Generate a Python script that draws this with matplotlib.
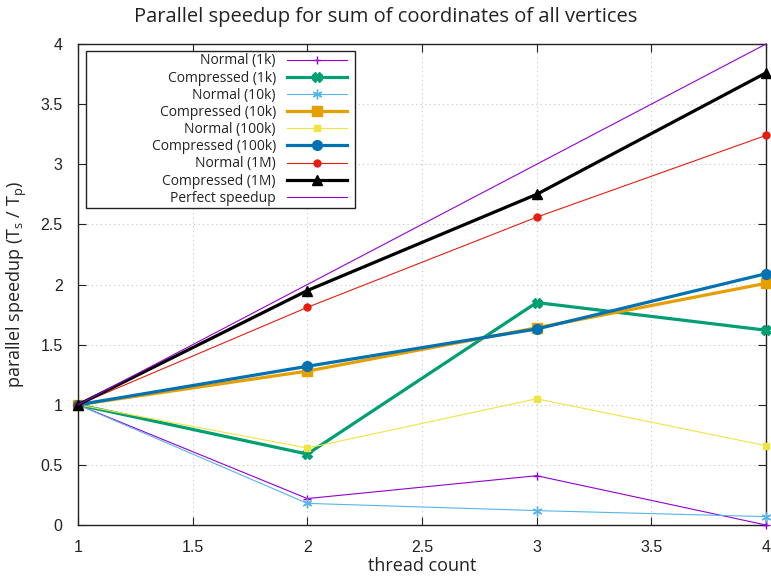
import matplotlib.pyplot as plt
from matplotlib.patches import Rectangle
import numpy as np

# thread counts and measured speedups (T_s / T_p)
threads = [1, 2, 3, 4]

normal_1k = [1.0, 0.22, 0.41, 0.0]
compressed_1k = [1.0, 0.59, 1.85, 1.62]
normal_10k = [1.0, 0.18, 0.12, 0.07]
compressed_10k = [1.0, 1.28, 1.64, 2.01]
normal_100k = [1.0, 0.64, 1.05, 0.66]
compressed_100k = [1.0, 1.32, 1.63, 2.09]
normal_1m = [1.0, 1.81, 2.56, 3.24]
compressed_1m = [1.0, 1.95, 2.75, 3.76]
perfect = [1, 2, 3, 4]

labels = ["Normal (1k)", "Compressed (1k)", "Normal (10k)", "Compressed (10k)",
          "Normal (100k)", "Compressed (100k)", "Normal (1M)", "Compressed (1M)",
          "Perfect speedup"]

# gnuplot-like asterisk marker
asterisk = (6, 2, 0)

# (values, color, linewidth, marker, markersize)
series = [
    (normal_1k, "#9400D3", 0.8, "+", 6),
    (compressed_1k, "#009E73", 2.3, "X", 7),
    (normal_10k, "#56B4E9", 0.8, asterisk, 7),
    (compressed_10k, "#E69F00", 2.3, "s", 7),
    (normal_100k, "#F0E442", 0.8, "s", 5),
    (compressed_100k, "#0072B2", 2.3, "o", 7),
    (normal_1m, "#E51E10", 0.8, "o", 5),
    (compressed_1m, "black", 2.3, "^", 7),
    (perfect, "#9400D3", 0.8, "", 0),
]

text_font = ["Open Sans", "DejaVu Sans"]
tick_font = "Liberation Sans"

fig = plt.figure(figsize=(7.71, 5.76), dpi=100)
ax = fig.add_axes([0.1012, 0.0885, 0.8923, 0.8351])

for (vals, color, lw, marker, ms), label in zip(series, labels):
    ax.plot(threads, vals, color=color, linewidth=lw, marker=marker,
            markersize=ms, markeredgewidth=1.0, label=label, clip_on=False,
            zorder=3)

ax.set_xlim(1, 4)
ax.set_ylim(0, 4)
ax.set_xticks(np.arange(1, 4.01, 0.5))
ax.set_yticks(np.arange(0, 4.01, 0.5))
ax.set_xticklabels(["1", "1.5", "2", "2.5", "3", "3.5", "4"])
ax.set_yticklabels(["0", "0.5", "1", "1.5", "2", "2.5", "3", "3.5", "4"])
for lab in ax.get_xticklabels() + ax.get_yticklabels():
    lab.set_fontfamily(tick_font)
    lab.set_fontsize(11.5)
    lab.set_color("#222222")

ax.tick_params(direction="in", top=True, right=True, length=6, width=0.8,
               colors="#222222", labelcolor="#222222")
ax.tick_params(axis="x", pad=11)
ax.tick_params(axis="y", pad=11)
ax.grid(True, linestyle=(0, (1, 3)), color="#c4c4c4", linewidth=0.8)
for sp in ax.spines.values():
    sp.set_color("#222222")
    sp.set_linewidth(1.0)

# title is centred on the whole figure
fig.text(0.5, 0.970, "Parallel speedup for sum of coordinates of all vertices",
         family=text_font, fontsize=14.5, color="#222222",
         ha="center", va="center")
ax.set_xlabel("thread count", family=text_font, fontsize=13, color="#222222")
ax.xaxis.set_label_coords(0.5, -0.066)
ax.set_ylabel(r"parallel speedup (T$_\mathregular{s}$ / T$_\mathregular{p}$)",
              family=text_font, fontsize=13, color="#222222", labelpad=8)

# key box, wider than its contents with labels right-aligned
box_x0, box_x1 = 0.0116, 0.4026
box_y0, box_y1 = 0.659, 0.985
ax.add_patch(Rectangle((box_x0, box_y0), box_x1 - box_x0, box_y1 - box_y0,
                       transform=ax.transAxes, facecolor="white",
                       edgecolor="#222222", linewidth=1.0, zorder=4,
                       clip_on=False))

leg = ax.legend(loc="upper right", bbox_to_anchor=(box_x1 - 0.006, box_y1 + 0.004),
                markerfirst=False, frameon=False,
                prop={"family": text_font, "size": 10},
                handlelength=4.3, handletextpad=0.8, labelspacing=0.155,
                borderpad=0.3, borderaxespad=0)
leg.set_zorder(5)
for col in leg._legend_handle_box.get_children():
    col.align = "right"
for t in leg.get_texts():
    t.set_color("#222222")

fig.savefig("out.png", dpi=100)
